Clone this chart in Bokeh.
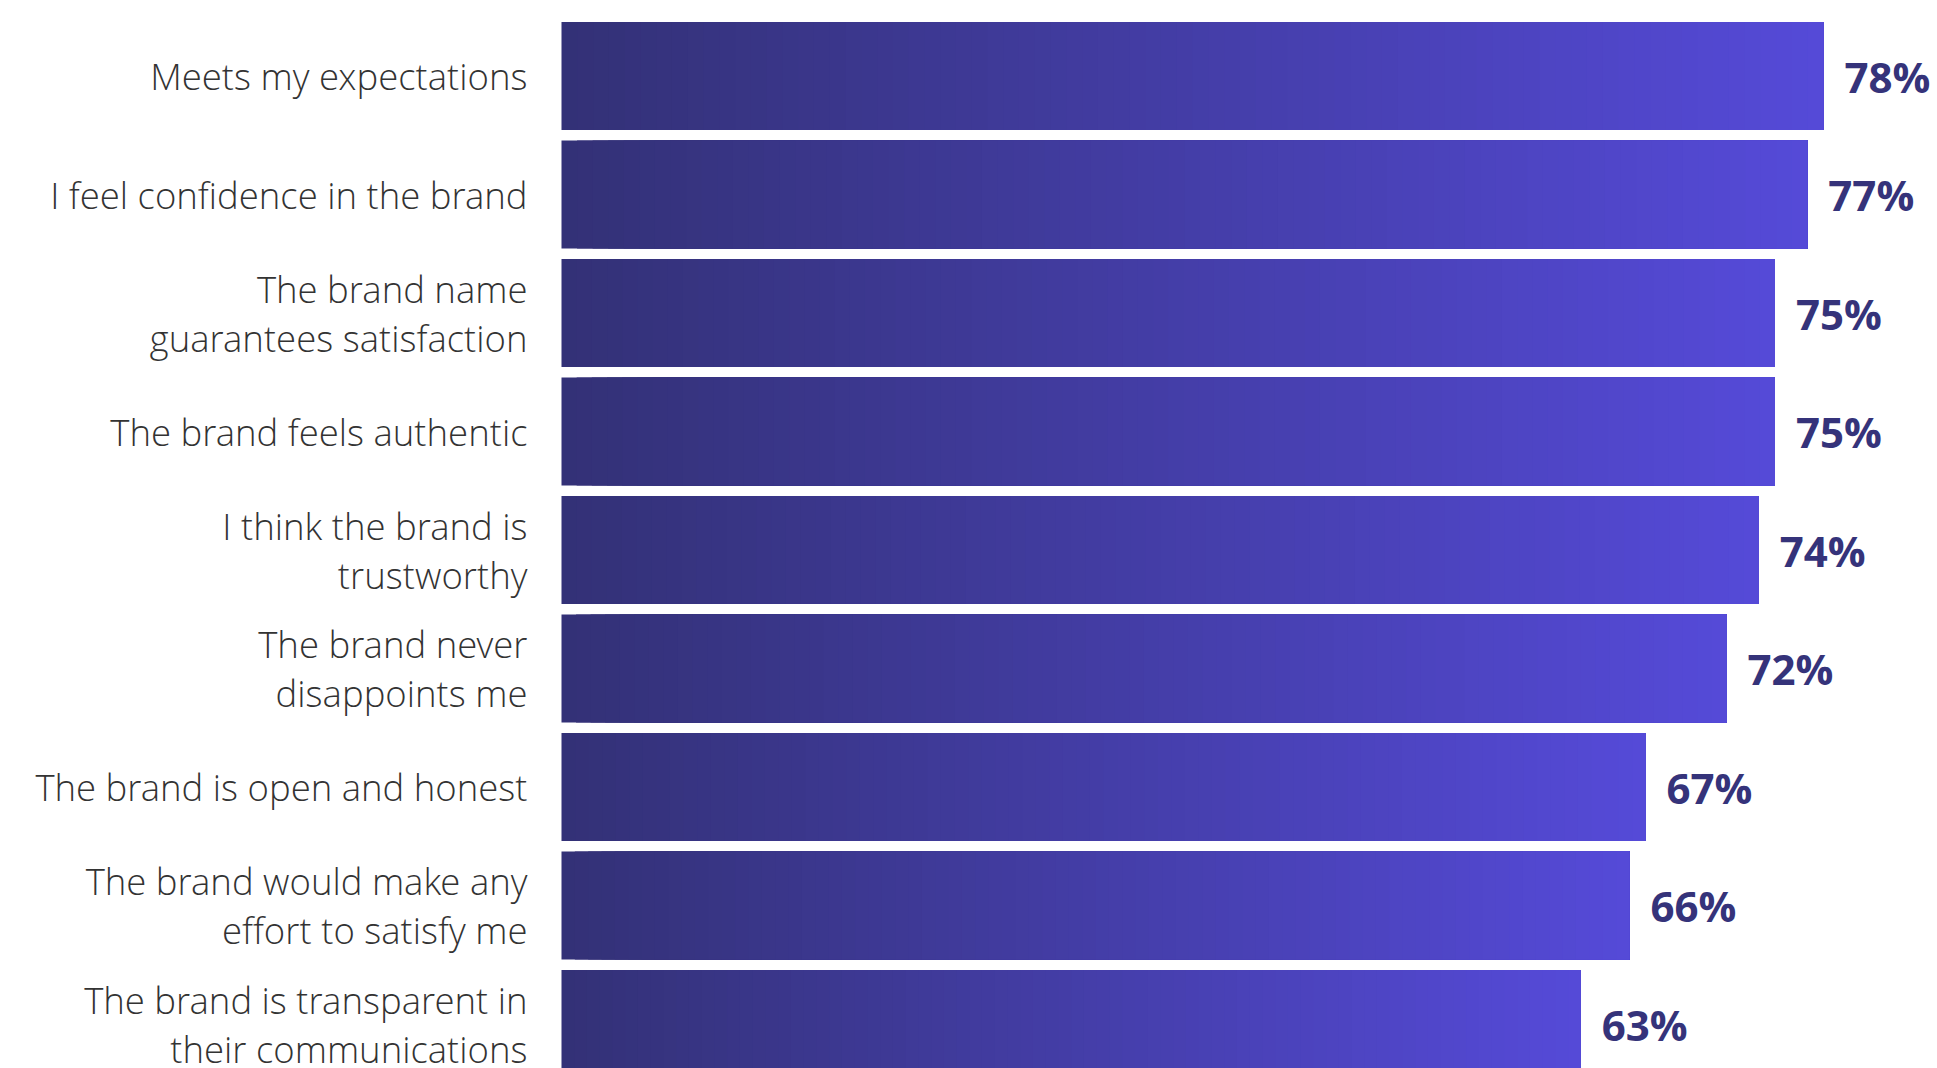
from bokeh.plotting import figure
from bokeh.models import Range1d, ColumnDataSource
from bokeh.embed import file_html
from bokeh.resources import INLINE
from bokeh.core.properties import value

categories = [
    "Meets my expectations",
    "I feel confidence in the brand",
    "The brand name\nguarantees satisfaction",
    "The brand feels authentic",
    "I think the brand is\ntrustworthy",
    "The brand never\ndisappoints me",
    "The brand is open and honest",
    "The brand would make any\neffort to satisfy me",
    "The brand is transparent in\ntheir communications",
]
values = [78, 77, 75, 75, 74, 72, 67, 66, 63]

GRAD_LEFT = (51, 49, 118)
GRAD_RIGHT = (85, 74, 216)
N_SLICES = 80

W, H = 1937, 1068
px_per_unit = 16.18
x0_px = 561
pitch = 118.5
center0 = 75.5

p = figure(
    width=W, height=H, output_backend="svg", toolbar_location=None,
    x_range=Range1d(-x0_px / px_per_unit, (W - x0_px) / px_per_unit),
    y_range=Range1d((H - center0) / pitch, -center0 / pitch),
    min_border=0,
)
p.axis.visible = False
p.grid.visible = False
p.outline_line_color = None
p.background_fill_color = "white"
p.border_fill_color = "white"

def hexcol(c):
    return "#%02x%02x%02x" % tuple(int(round(v)) for v in c)

bar_h = 108 / pitch

# gradient: each slice starts further right and runs to the bar's end,
# later slices painting over earlier ones (no seams between slices)
lefts, rights, ys, cols = [], [], [], []
for i, v in enumerate(values):
    step = v / N_SLICES
    for k in range(N_SLICES):
        t = (k + 0.5) / N_SLICES
        c = tuple(GRAD_LEFT[j] + (GRAD_RIGHT[j] - GRAD_LEFT[j]) * t for j in range(3))
        lefts.append(k * step)
        rights.append(v)
        ys.append(i)
        cols.append(hexcol(c))

src = ColumnDataSource(dict(left=lefts, right=rights, y=ys, color=cols))
p.hbar(y="y", left="left", right="right", height=bar_h, fill_color="color",
       line_color=None, source=src)

lab_src = ColumnDataSource(dict(
    y=list(range(len(categories))),
    x=[0] * len(categories),
    cat=categories,
    v=values,
    vt=[f"{v}%" for v in values],
))

p.text(x="x", y="y", text="cat", source=lab_src, x_offset=-34,
       text_align="right", text_baseline="middle",
       text_font=value("Open Sans Light"), text_font_size="36.5px",
       text_color="#333333", text_line_height=0.98)

p.text(x="v", y="y", text="vt", source=lab_src, x_offset=21,
       text_align="left", text_baseline="middle",
       text_font=value("Open Sans"), text_font_style="bold",
       text_font_size="42px", text_color="#35337a")

open("out.html", "w").write(file_html(p, INLINE))
